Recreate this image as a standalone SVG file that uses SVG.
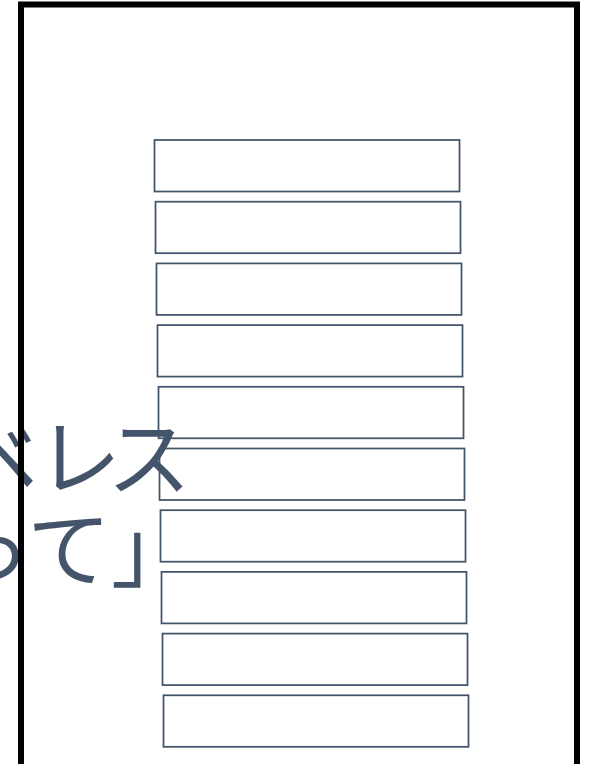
<svg xmlns="http://www.w3.org/2000/svg" width="590" height="764" viewBox="0 0 590 764">
<style>
.box{fill:none;stroke:#44546a;stroke-width:1.75}
.t{font-family:"Noto Sans CJK JP","Noto Sans",sans-serif;font-size:84px;fill:#44546a}
.frame{fill:none;stroke:#000;stroke-width:6}
</style>
<rect width="590" height="764" fill="#fff"/>
<g id="stack">
<rect id="b1" class="box" x="154.5" y="140" width="305" height="51.5"/>
<rect id="b2" class="box" x="155.5" y="201.7" width="305" height="51.5"/>
<rect id="b3" class="box" x="156.5" y="263.4" width="305" height="51.5"/>
<rect id="b4" class="box" x="157.5" y="325.1" width="305" height="51.5"/>
<rect id="b5" class="box" x="158.5" y="386.8" width="305" height="51.5"/>
<rect id="b6" class="box" x="159.5" y="448.5" width="305" height="51.5"/>
<rect id="b7" class="box" x="160.5" y="510.2" width="305" height="51.5"/>
<rect id="b8" class="box" x="161.5" y="571.9" width="305" height="51.5"/>
<rect id="b9" class="box" x="162.5" y="633.6" width="305" height="51.5"/>
<rect id="b10" class="box" x="163.5" y="695.3" width="305" height="51.5"/>
</g>
<g id="label">
<text class="t" x="-46 37 107" y="489">ベレス</text>
<text class="t" x="195" y="580" text-anchor="end">って」</text>
</g>
<g id="frame">
<rect class="frame" x="21" y="4.5" width="556" height="800"/>
</g>
</svg>
